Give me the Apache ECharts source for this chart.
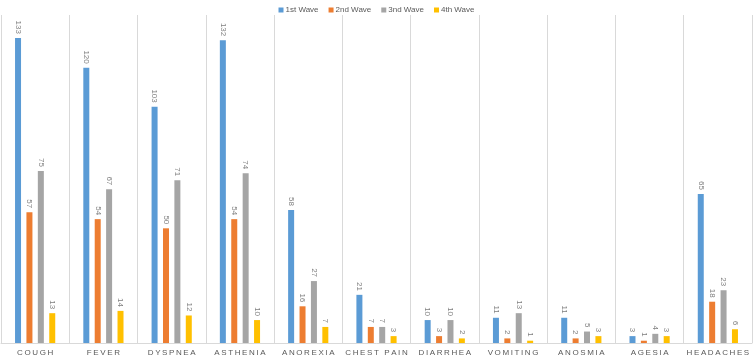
<!DOCTYPE html>
<html><head><meta charset="utf-8">
<script src="https://cdn.jsdelivr.net/npm/echarts@6/dist/echarts.min.js"></script>
<style>html,body{margin:0;padding:0;background:#fff}#c{width:753px;height:358px}</style>
</head><body><div id="c"></div>
<script>
const categories = ["COUGH","FEVER","DYSPNEA","ASTHENIA","ANOREXIA","CHEST PAIN","DIARRHEA","VOMITING","ANOSMIA","AGESIA","HEADACHES"];
const seriesNames = ["1st Wave","2nd Wave","3nd Wave","4th Wave"];
const wave1 = [133,120,103,132,58,21,10,11,11,3,65];
const wave2 = [57,54,50,54,16,7,3,2,2,1,18];
const wave3 = [75,67,71,74,27,7,10,13,5,4,23];
const wave4 = [13,14,12,10,7,3,2,1,3,3,6];
const colors = ["#5B9BD5","#ED7D31","#A5A5A5","#FFC000"];

const chart = echarts.init(document.getElementById('c'));
const data = [wave1, wave2, wave3, wave4];
chart.setOption({
  animation: false,
  legend: {
    top: 1, left: 'center', itemWidth: 5, itemHeight: 5, itemGap: 10,
    icon: 'rect',
    textStyle: { color: '#595959', fontSize: 8, fontFamily: 'Liberation Sans Narrow, Liberation Sans', padding: [0,0,0,-3] }
  },
  grid: { left: 1, right: 1, top: 15, bottom: 15 },
  xAxis: {
    type: 'category', data: categories,
    axisLine: { lineStyle: { color: '#D9D9D9' } },
    axisTick: { show: false },
    splitLine: { show: true, lineStyle: { color: '#D9D9D9' } },
    axisLabel: {
      color: '#595959', fontSize: 8, fontFamily: 'Liberation Sans', margin: 6, interval: 0,
      formatter: v => v.split('').join('\u2009')
    }
  },
  yAxis: { type: 'value', min: 0, max: 143, show: false, splitLine: { show: false } },
  series: data.map((d, i) => ({
    name: seriesNames[i], type: 'bar', data: d,
    barWidth: 6, barGap: '90%',
    itemStyle: { color: colors[i] },
    label: {
      show: true, position: 'top', rotate: -90, distance: 4,
      align: 'right', verticalAlign: 'middle',
      color: '#7F7F7F', fontSize: 8, fontFamily: 'Liberation Sans'
    }
  }))
});
</script></body></html>
